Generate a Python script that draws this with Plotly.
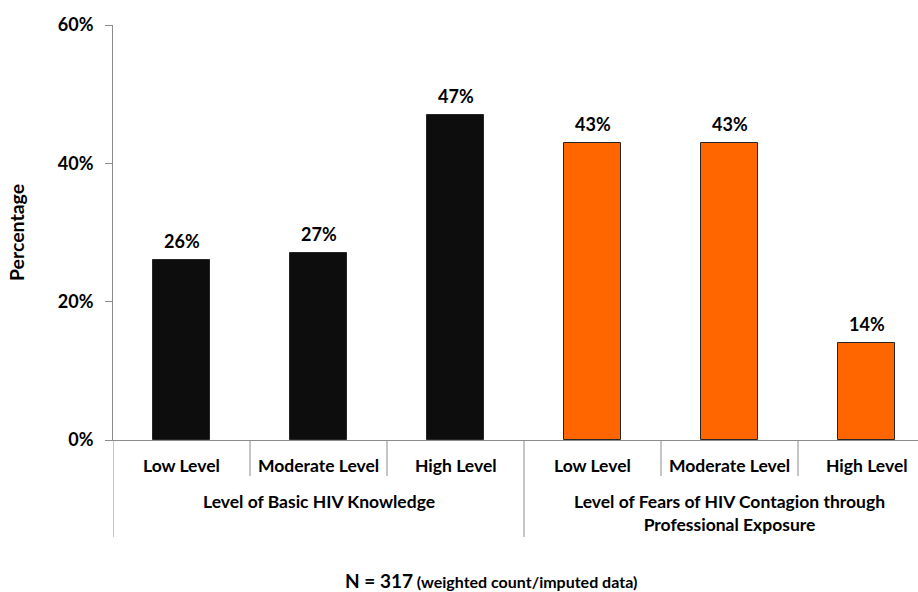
import plotly.graph_objects as go

categories = ["Low Level", "Moderate Level", "High Level", "Low Level", "Moderate Level", "High Level"]
values = [26, 27, 47, 43, 43, 14]
bar_colors = ["#0d0d0d", "#0d0d0d", "#0d0d0d", "#ff6600", "#ff6600", "#ff6600"]
groups = ["Level of Basic HIV Knowledge", "Level of Fears of HIV Contagion through<br>Professional Exposure"]
group_members = [[0, 1, 2], [3, 4, 5]]
y_ticks = [0, 20, 40, 60]
y_tick_labels = ["0%", "20%", "40%", "60%"]
footnote = "<b><span style='font-size:19px'>N = 317</span> <span style='font-size:16px'>(weighted count/imputed data)</span></b>"

FONT = "Lato"
W, H = 918, 592
L, R, T, B = 113, 0, 25, 152
plot_h = H - T - B
plot_w = W - L - R

def py(yp):
    return (H - B - yp) / plot_h

x = list(range(len(values)))
fig = go.Figure()
fig.add_trace(go.Bar(
    x=x, y=values, width=0.41,
    marker=dict(color=bar_colors, line=dict(width=1, color="#262626")),
    hoverinfo="skip",
))

# data labels
for xi, v in zip(x, values):
    fig.add_annotation(x=xi, y=v, xref="x", yref="y", text=f"<b>{v}%</b>",
                       showarrow=False, yanchor="bottom", yshift=6,
                       font=dict(family=FONT, size=18, color="#000"))

# category labels
for xi, c in zip(x, categories):
    fig.add_annotation(x=xi, y=py(465), xref="x", yref="paper", text=f"<b>{c}</b>",
                       showarrow=False, yanchor="middle",
                       font=dict(family=FONT, size=17.5, color="#000"))

# group labels
for g, mem in zip(groups, group_members):
    cx = sum(mem) / len(mem)
    fig.add_annotation(x=cx, y=py(489), xref="x", yref="paper", text=f"<b>{g}</b>",
                       showarrow=False, yanchor="top",
                       font=dict(family=FONT, size=17.5, color="#000"))

# separators
line_col = "#8c8c8c"
for i in range(len(values)):
    xb = i - 0.5
    y1 = py(537) if i % 3 == 0 else py(476)
    fig.add_shape(type="line", xref="x", yref="paper", x0=xb, x1=xb, y0=0, y1=y1,
                  line=dict(color=line_col, width=1))

fig.add_annotation(x=(491 - L) / plot_w, y=py(580), xref="paper", yref="paper",
                   text=footnote, showarrow=False, yanchor="middle",
                   font=dict(family=FONT, size=16, color="#000"))

fig.update_layout(
    width=W, height=H,
    margin=dict(l=L, r=R, t=T, b=B),
    plot_bgcolor="white", paper_bgcolor="white",
    showlegend=False,
    bargap=0,
    font=dict(family=FONT, color="#000"),
)
fig.update_xaxes(range=[-0.5, -0.5 + plot_w / 137.0], showticklabels=False, ticks="",
                 showline=True, linecolor=line_col, linewidth=1, showgrid=False,
                 zeroline=False, fixedrange=True)
fig.update_yaxes(range=[0, 60], tickvals=y_ticks,
                 ticktext=[f"<b>{t}</b>" for t in y_tick_labels],
                 ticks="outside", ticklen=7, tickcolor=line_col, tickwidth=1,
                 showline=True, linecolor=line_col, linewidth=1, showgrid=False,
                 zeroline=False, tickfont=dict(family=FONT, size=18, color="#000"),
                 ticklabelstandoff=8,
                 title=dict(text="<b>Percentage</b>", font=dict(family=FONT, size=19.5, color="#000"),
                            standoff=27))

fig.write_html("out.html")
